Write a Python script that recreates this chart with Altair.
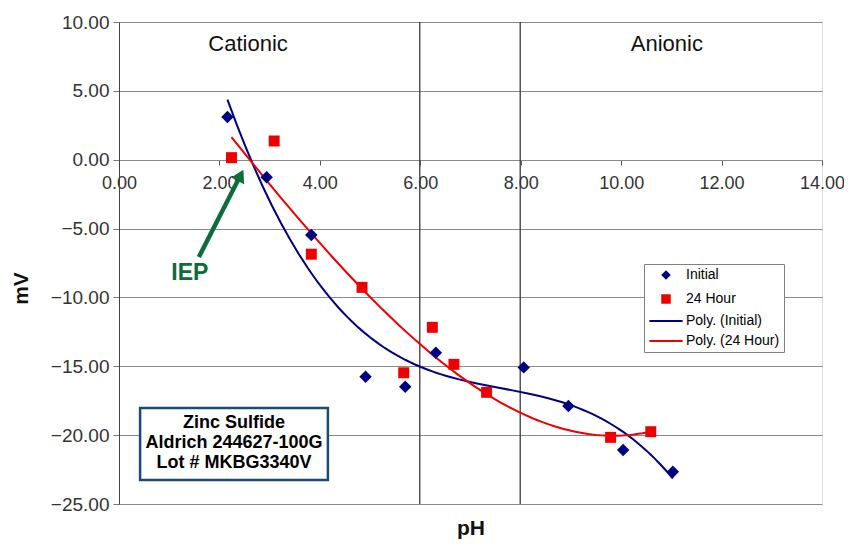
import altair as alt
import pandas as pd

# ---- data ----
initial_ph = [2.16, 2.94, 3.83, 4.91, 5.70, 6.31, 8.06, 8.95, 10.04, 11.03]
initial_mv = [3.10, -1.28, -5.47, -15.76, -16.48, -14.02, -15.08, -17.89, -21.08, -22.66]
h24_ph = [2.24, 3.09, 3.83, 4.84, 5.67, 6.24, 6.67, 7.32, 9.79, 10.59]
h24_mv = [0.15, 1.36, -6.86, -9.27, -15.47, -12.17, -14.86, -16.89, -20.16, -19.75]

series_names = ["Initial", "24 Hour", "Poly. (Initial)", "Poly. (24 Hour)"]
fill_colors = ["#000080", "#EE0000", "transparent", "transparent"]
stroke_colors = ["transparent", "transparent", "#000080", "#EE0000"]
series_shapes = ["diamond", "square", "M-3.5,0L3.5,0", "M-3.5,0L3.5,0"]

x_ticks = [0, 2, 4, 6, 8, 10, 12, 14]
y_ticks = [-25, -20, -15, -10, -5, 0, 5, 10]

region_labels = ["Cationic", "Anionic"]
region_ph = [2.57, 10.91]
region_mv = [8.4, 8.4]

divider_ph = [5.99, 7.99]

arrow_ph = [1.59, 2.42]
arrow_mv = [-7.07, -1.13]
iep_label = ["IEP"]
iep_ph = [1.41]
iep_mv = [-8.23]

box_text = ["Zinc Sulfide", "Aldrich 244627-100G", "Lot # MKBG3340V"]
box_ph = [0.42, 4.16]
box_mv = [-18.03, -23.26]
box_text_ph = [2.29]
box_text_mv = [-19.12]

FONT = "Liberation Sans"
GREEN = "#0E6B3C"

pts = pd.DataFrame({
    "pH": initial_ph + h24_ph,
    "mV": initial_mv + h24_mv,
    "series": ["Initial"] * len(initial_ph) + ["24 Hour"] * len(h24_ph),
})

xs = alt.Scale(domain=[0, 14], nice=False, zero=False)
ys = alt.Scale(domain=[-25, 10], nice=False, zero=False)

x_axis = alt.Axis(
    values=x_ticks, format=".2f", orient="bottom", offset=-344, grid=False,
    labelFontSize=18, labelColor="#333333", labelFont=FONT, labelFlush=False,
    labelOverlap=False, labelPadding=9, tickSize=5, tickColor="#555555",
    domainColor="#8a8a8a", title="pH", titleFontSize=21, titleFont=FONT,
    titleFontWeight="bold", titleY=374, titleBaseline="alphabetic", titleColor="#111111",
)
y_axis = alt.Axis(
    values=y_ticks, format=".2f", grid=True, gridColor="#8a8a8a", gridWidth=1,
    labelFontSize=19, labelColor="#333333", labelFont=FONT, labelFlush=False,
    labelOverlap=False, labelPadding=4, tickSize=6, tickColor="#777777",
    domainColor="#444444", title="mV", titleFontSize=21, titleFont=FONT,
    titleFontWeight="bold", titleX=-98, titleY=266, titleAlign="center",
    titleBaseline="middle", titleColor="#111111",
)

X = alt.X("pH:Q", scale=xs, axis=x_axis)
Y = alt.Y("mV:Q", scale=ys, axis=y_axis)

legend = alt.Legend(
    title=None, orient="none", legendX=525, legendY=242,
    fillColor="white", strokeColor="#808080", padding=4,
    labelFontSize=14, labelFont=FONT, labelColor="#000000",
    symbolSize=90, symbolOffset=11, labelOffset=13,
    symbolStrokeWidth=2, rowPadding=6, symbolOpacity=1,
)

fill = alt.Fill("series:N", scale=alt.Scale(domain=series_names, range=fill_colors), legend=legend)
stroke = alt.Stroke("series:N", scale=alt.Scale(domain=series_names, range=stroke_colors), legend=legend)
shape = alt.Shape("series:N", scale=alt.Scale(domain=series_names, range=series_shapes), legend=legend)

points = alt.Chart(pts).mark_point(filled=True, opacity=1, strokeWidth=0).encode(
    x=X, y=Y, fill=fill, shape=shape,
    size=alt.condition("datum.series == 'Initial'", alt.value(155), alt.value(120)),
)

fits = alt.Chart(pts).transform_regression(
    "pH", "mV", groupby=["series"], method="poly", order=3
).transform_calculate(
    series="'Poly. (' + datum.series + ')'"
).mark_line(strokeWidth=2).encode(x=X, y=Y, stroke=stroke)

dividers = alt.Chart(pd.DataFrame({"pH": divider_ph})).mark_rule(color="#3a3a3a", strokeWidth=1.3).encode(
    x=X, y=alt.value(0), y2=alt.value(482)
)

regions = alt.Chart(pd.DataFrame({"pH": region_ph, "mV": region_mv, "t": region_labels})).mark_text(
    font=FONT, fontSize=22, color="#111111"
).encode(x=X, y=Y, text="t:N")

arrow_line = alt.Chart(pd.DataFrame({"pH": [arrow_ph[0]], "mV": [arrow_mv[0]], "pH2": [arrow_ph[1]], "mV2": [arrow_mv[1]]})).mark_rule(
    color=GREEN, strokeWidth=4.5
).encode(x=X, y=Y, x2="pH2:Q", y2="mV2:Q")
arrow_head = alt.Chart(pd.DataFrame({"pH": [arrow_ph[1]], "mV": [arrow_mv[1]]})).mark_point(
    shape="triangle-up", filled=True, size=210, color=GREEN, opacity=1, angle=27
).encode(x=X, y=Y)
iep = alt.Chart(pd.DataFrame({"pH": iep_ph, "mV": iep_mv, "t": iep_label})).mark_text(
    font=FONT, fontSize=23, fontWeight="bold", color=GREEN
).encode(x=X, y=Y, text="t:N")

box = alt.Chart(pd.DataFrame({"pH": [box_ph[0]], "pH2": [box_ph[1]], "mV": [box_mv[0]], "mV2": [box_mv[1]]})).mark_rect(
    fill="white", stroke="#1F497D", strokeWidth=2.5
).encode(x=X, x2="pH2:Q", y=Y, y2="mV2:Q")
box_label = alt.Chart(pd.DataFrame({"pH": box_text_ph, "mV": box_text_mv, "t": ["\n".join(box_text)]})).mark_text(
    font=FONT, fontSize=18, fontWeight="bold", color="#000000", lineBreak="\n", lineHeight=20, baseline="middle"
).encode(x=X, y=Y, text="t:N")

chart = alt.layer(
    dividers, box, box_label, fits, points, regions, arrow_line, arrow_head, iep
).properties(
    width=703, height=482,
    padding={"left": 111, "top": 14, "right": 22, "bottom": 36},
    autosize=alt.AutoSizeParams(type="none"),
).configure_view(stroke="#8a8a8a", strokeWidth=1).configure(font=FONT, background="white")

chart.save("out.html", embed_options={"renderer": "svg", "actions": False})
